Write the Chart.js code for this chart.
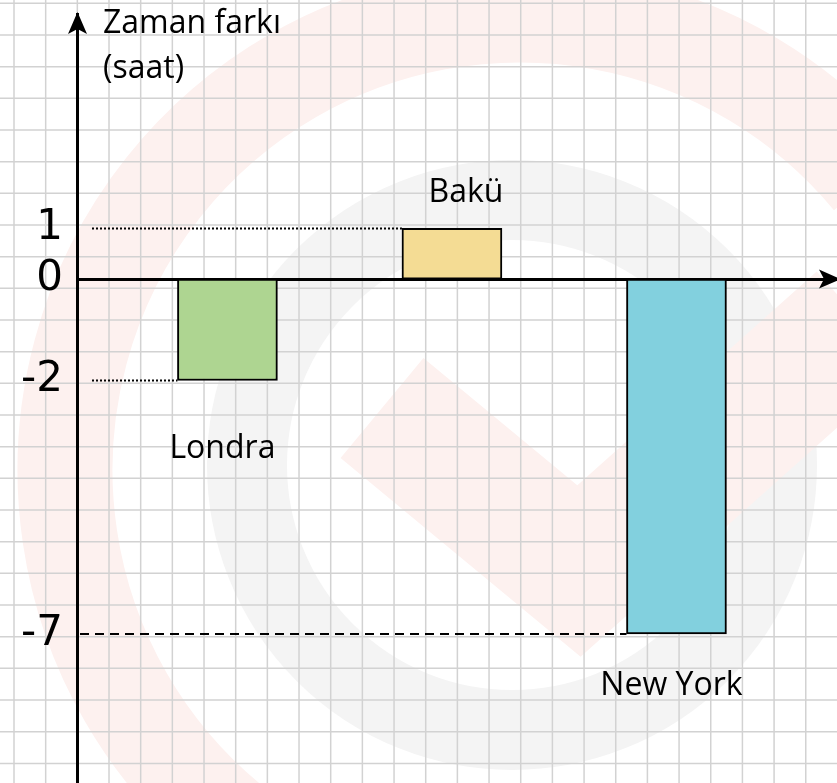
<!DOCTYPE html>
<html lang="tr">
<head>
<meta charset="utf-8">
<script src="https://cdn.jsdelivr.net/npm/chart.js@4.4.1/dist/chart.umd.min.js"></script>
<style>
  html, body { margin: 0; padding: 0; background: #fff; }
  #chart { display: block; }
</style>
</head>
<body>
<canvas id="chart" width="837" height="783"></canvas>
<script>
const cities = ['Londra', 'Bakü', 'New York'];
const timeDiff = [-2, 1, -7];
const tickValues = [1, 0, -2, -7];
const axisTitle = ['Zaman farkı', '(saat)'];

const barColors = ['#aed591', '#f4dc94', '#82d0de'];
// city name position relative to the end of its bar
const labelShift = [[-5, 77], [14, -26], [-5, 61]];
// guide lines: dotted for -2 and 1, dashed for -7
const guideDash = [[2, 2], [2, 2], [9, 6]];
const guideGap = [15, 15, 3];

const paper = {
  id: 'paper',
  beforeDraw(chart) {
    const ctx = chart.ctx;
    const w = chart.width, h = chart.height;
    ctx.save();
    ctx.fillStyle = '#fff';
    ctx.fillRect(0, 0, w, h);

    // faint logo behind the paper
    ctx.lineCap = 'butt';
    ctx.strokeStyle = '#fdf1ef';
    ctx.lineWidth = 95;
    ctx.beginPath();
    ctx.arc(520, 470, 455, Math.PI / 3, Math.PI * 1.78);
    ctx.stroke();

    ctx.strokeStyle = '#f4f4f4';
    ctx.lineWidth = 80;
    ctx.beginPath();
    ctx.arc(512, 465, 265, 0, Math.PI * 2);
    ctx.stroke();

    ctx.strokeStyle = '#fdf1ef';
    ctx.lineWidth = 130;
    ctx.lineJoin = 'miter';
    ctx.beginPath();
    ctx.moveTo(382, 408);
    ctx.lineTo(579, 571);
    ctx.lineTo(860, 320);
    ctx.stroke();

    // squared paper
    ctx.strokeStyle = '#d2d2d2';
    ctx.lineWidth = 1.5;
    ctx.beginPath();
    for (let x = 14; x < w; x += 31.67) { ctx.moveTo(x, 0); ctx.lineTo(x, h); }
    for (let y = 3.3; y < h; y += 31.67) { ctx.moveTo(0, y); ctx.lineTo(w, y); }
    ctx.stroke();
    ctx.restore();
  }
};

const marks = {
  id: 'marks',
  afterDraw(chart) {
    const { ctx, chartArea, scales } = chart;
    const meta = chart.getDatasetMeta(0);
    const y0 = scales.y.getPixelForValue(0);
    ctx.save();

    ctx.strokeStyle = '#000';
    ctx.lineWidth = 2;
    meta.data.forEach((bar, i) => {
      const p = bar.getProps(['x', 'y', 'width'], true);
      ctx.setLineDash(guideDash[i]);
      ctx.beginPath();
      ctx.moveTo(chartArea.left + guideGap[i], p.y);
      ctx.lineTo(p.x - p.width / 2, p.y);
      ctx.stroke();
    });
    ctx.setLineDash([]);

    // arrow heads
    ctx.fillStyle = '#000';
    const ax = chartArea.left + 0.5;
    ctx.beginPath();
    ctx.moveTo(ax, chartArea.top - 2);
    ctx.lineTo(ax - 9.5, chartArea.top + 20);
    ctx.lineTo(ax, chartArea.top + 15);
    ctx.lineTo(ax + 9.5, chartArea.top + 20);
    ctx.closePath();
    ctx.fill();

    const rx = chartArea.right;
    ctx.beginPath();
    ctx.moveTo(rx + 4, y0);
    ctx.lineTo(rx - 18, y0 - 9.5);
    ctx.lineTo(rx - 13, y0);
    ctx.lineTo(rx - 18, y0 + 9.5);
    ctx.closePath();
    ctx.fill();

    // axis title and city names
    ctx.font = '32px "Open Sans"';
    ctx.textAlign = 'left';
    ctx.textBaseline = 'alphabetic';
    ctx.fillText(axisTitle[0], chartArea.left + 26, 33);
    ctx.fillText(axisTitle[1], chartArea.left + 26, 78);

    ctx.textAlign = 'center';
    meta.data.forEach((bar, i) => {
      const p = bar.getProps(['x', 'y'], true);
      ctx.fillText(cities[i], p.x + labelShift[i][0], p.y + labelShift[i][1]);
    });
    ctx.restore();
  }
};

new Chart(document.getElementById('chart'), {
  type: 'bar',
  data: {
    datasets: [{
      data: cities.map((c, i) => ({ x: i + 1, y: timeDiff[i] })),
      backgroundColor: barColors,
      borderColor: '#000',
      borderWidth: 2,
      borderSkipped: false,
      barThickness: 100
    }]
  },
  options: {
    responsive: false,
    animation: false,
    layout: { padding: { top: 14, right: 0, bottom: 0, left: 0 } },
    plugins: { legend: { display: false }, tooltip: { enabled: false } },
    scales: {
      x: {
        type: 'linear',
        position: { y: 0 },
        offset: false,
        min: 0.33,
        max: 3.715,
        afterFit: s => { s.height = 0; s.paddingLeft = 0; s.paddingRight = 0; },
        grid: { display: false, drawTicks: false },
        ticks: { display: false, padding: 0 },
        border: { display: true, color: '#000', width: 3 }
      },
      y: {
        min: -9.94,
        max: 5.23,
        afterBuildTicks: s => { s.ticks = tickValues.map(v => ({ value: v })); },
        afterFit: s => { s.width = 77; s.paddingTop = 0; s.paddingBottom = 0; },
        grid: { display: false, drawTicks: false },
        border: { display: true, color: '#000', width: 3 },
        ticks: { color: '#000', font: { family: 'DejaVu Sans', size: 42 }, padding: 14 }
      }
    }
  },
  plugins: [paper, marks]
});
</script>
</body>
</html>
